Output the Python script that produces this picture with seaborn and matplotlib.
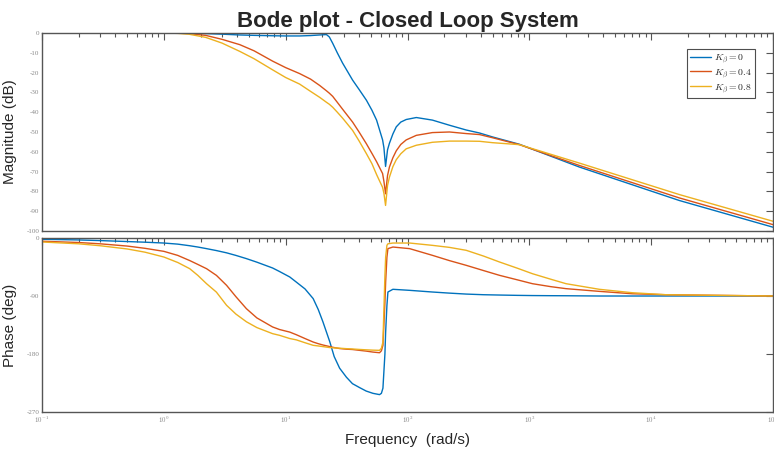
import numpy as np
import pandas as pd
import matplotlib
matplotlib.use("Agg")
import matplotlib.pyplot as plt
import matplotlib.ticker as mticker
import seaborn as sns

# ---------------------------------------------------------------
# Data
# ---------------------------------------------------------------
k_labels = [r"$K_\beta = 0$", r"$K_\beta = 0.4$", r"$K_\beta = 0.8$"]
line_colors = ["#0072BD", "#D95319", "#EDB120"]

# magnitude (dB)
w_mag = [0.1, 0.3, 1, 1.3, 1.6, 2.2, 3.0, 4.2, 5.5, 7.8, 10, 13, 16, 19, 21.6, 22.8,
         24.3, 26.5, 29.3, 35.4, 40, 46, 51, 55.7, 62.4, 64, 66, 68.5, 71, 75.8,
         80.8, 88, 97.5, 118, 160, 221, 303, 389, 498, 828, 2570, 17000, 100000]
mag_k0 = [0, 0, 0, -0.05, -0.1, -0.3, -0.6, -1.0, -1.2, -1.4, -1.5, -1.5, -1.3, -1.0, -0.8, -2.0,
          -5.2, -10, -15.2, -23.8, -28.5, -34, -39, -44, -54, -58, -67.4, -59, -55.7, -51,
          -47.4, -45, -43.7, -42.7, -44, -46.6, -49, -50.5, -52.5, -56.2, -67.7, -84.6, -98.1]
mag_k04 = [0, 0, 0, -0.1, -0.3, -1.2, -3.2, -5.9, -9, -14.2, -17.5, -20.5, -23.3, -26.5, -29.2, -30.4,
           -32, -35, -38.5, -45, -50, -56, -60.8, -65, -71, -75, -81.2, -72, -67.7, -63,
           -59.5, -56.3, -54, -51.7, -50.3, -50, -50.8, -51.3, -52.9, -56.4, -66.9, -83.3, -96.8]
mag_k08 = [0, 0, 0, -0.2, -0.6, -2.2, -5.1, -9.3, -13, -18.6, -22.5, -25.8, -29.5, -32.5, -35, -36,
           -37.5, -40, -43, -49.2, -54.5, -61, -66, -71.5, -78, -81, -87.1, -77, -72.8, -67.5,
           -64, -61, -58.5, -56.7, -55.2, -54.6, -54.6, -54.7, -55.4, -56.4, -65.7, -81.6, -95.1]

# phase (deg)
w_ph = [0.1, 0.2, 0.3, 0.5, 0.7, 1, 1.3, 1.63, 1.9, 2.24, 2.7, 3.27, 3.9, 4.76, 5.8, 7.8,
        8.9, 10.8, 12.2, 14.4, 16.8, 18.5, 20.2, 23, 25, 27.7, 31.5, 35.3, 40.3, 45.8, 52, 58.9,
        61, 62.8, 65.2, 66.1, 67.7, 69, 75.8, 104, 160, 220, 303, 420, 568, 800, 1060,
        1500, 2000, 3750, 6990, 13200, 100000]
ph_k0 = [-2, -3, -4, -5.5, -6.5, -7.8, -9.5, -12, -14, -16.5, -19.5, -23, -27, -32, -37.5, -46.5,
         -52, -60.5, -68.3, -79, -94, -111, -130, -161, -184, -202, -216, -226, -232, -237.5, -241, -243,
         -241, -233, -180, -146, -105, -83.8, -79.6, -81.2, -83.8, -85.5, -87, -88, -88.5, -89, -89.3,
         -89.5, -89.6, -90, -90, -90, -90]
ph_k04 = [-5, -7, -9, -12.5, -16, -20.7, -27, -35, -41, -47.6, -58, -73.4, -91, -109.7, -124, -138,
          -142, -146, -150, -156, -161.4, -164, -166, -168.5, -170, -171.5, -172.5, -173, -174.3, -175.5, -177, -178,
          -175, -166.5, -100, -68.3, -30, -16.5, -14, -16.5, -26.9, -35, -42.4, -50.5, -57.9, -65, -70.9,
          -75.5, -78.6, -82.8, -86.5, -88, -90]
ph_k08 = [-6.2, -9, -12, -17, -22, -29.5, -38, -47.6, -58, -70.9, -84, -104.4, -118, -130, -139, -148.4,
          -151, -156, -158, -162.5, -166.5, -167.5, -168.5, -170, -170.5, -171, -171.7, -172.2, -172.9, -173.5, -174, -174.3,
          -171, -161.4, -58, -30, -11.4, -9, -7.8, -7.8, -11.4, -14.5, -19.1, -28, -37.2, -47, -55.4,
          -64, -70.9, -79.6, -84.9, -88, -90]

mag_ticks = list(range(0, -101, -10))
ph_ticks = [0, -90, -180, -270]
freq_ticks = [1e-1, 1e0, 1e1, 1e2, 1e3, 1e4, 1e5]
freq_ticklabels = [r"$10^{-1}$", r"$10^{0}$", r"$10^{1}$", r"$10^{2}$",
                   r"$10^{3}$", r"$10^{4}$", r"$10^{5}$"]

# ---------------------------------------------------------------
# Long-form tables for seaborn
# ---------------------------------------------------------------
mag_df = pd.concat([pd.DataFrame({"w": w_mag, "val": v, "K": k})
                    for k, v in zip(k_labels, [mag_k0, mag_k04, mag_k08])])
ph_df = pd.concat([pd.DataFrame({"w": w_ph, "val": v, "K": k})
                   for k, v in zip(k_labels, [ph_k0, ph_k04, ph_k08])])

sns.set_theme(style="white")
plt.rcParams["font.family"] = ["Liberation Sans", "DejaVu Sans"]
plt.rcParams["mathtext.fontset"] = "cm"

fig = plt.figure(figsize=(7.74, 4.5), dpi=100)
ax_mag = fig.add_axes([0.0543, 0.4867, 0.9445, 0.44])
ax_ph = fig.add_axes([0.0543, 0.0844, 0.9445, 0.3867])

palette = dict(zip(k_labels, line_colors))
sns.lineplot(data=mag_df, x="w", y="val", hue="K", palette=palette,
             estimator=None, linewidth=1.0, ax=ax_mag)
sns.lineplot(data=ph_df, x="w", y="val", hue="K", palette=palette,
             estimator=None, linewidth=1.0, ax=ax_ph, legend=False)

spine_col = "#555555"
for ax in (ax_mag, ax_ph):
    ax.set_xscale("log")
    ax.set_xlim(0.1, 1e5)
    ax.set_xticks(freq_ticks)
    ax.xaxis.set_minor_locator(mticker.LogLocator(base=10, subs=np.arange(2, 10), numticks=20))
    ax.xaxis.set_minor_formatter(mticker.NullFormatter())
    ax.tick_params(which="both", direction="in", top=True, right=True,
                   color=spine_col, width=0.8, labelsize=5, labelcolor="#888888", pad=2)
    ax.tick_params(which="major", length=5)
    ax.tick_params(which="minor", length=3)
    for s in ax.spines.values():
        s.set_color(spine_col)
        s.set_linewidth(1.0)
    ax.grid(False)

ax_mag.set_ylim(-100, 0)
ax_mag.set_yticks(mag_ticks)
ax_mag.set_yticklabels([str(t) for t in mag_ticks], family="Liberation Serif")
ax_mag.set_xticklabels([])
ax_mag.set_xlabel("")
ax_mag.set_ylabel("Magnitude (dB)", fontsize=11)
ax_mag.yaxis.set_label_coords(-0.034, 0.5)

ax_ph.set_ylim(-270, 0)
ax_ph.set_yticks(ph_ticks)
ax_ph.set_yticklabels([str(t) for t in ph_ticks], family="Liberation Serif")
ax_ph.set_xticklabels(freq_ticklabels)
ax_ph.set_xlabel("Frequency  (rad/s)", fontsize=11, labelpad=6)
ax_ph.set_ylabel("Phase (deg)", fontsize=11)
ax_ph.yaxis.set_label_coords(-0.034, 0.5)

ax_mag.set_title("Bode plot - Closed Loop System", fontsize=16, fontweight="bold", pad=4)

leg = ax_mag.legend(loc="upper right", bbox_to_anchor=(0.9754, 0.919), borderaxespad=0,
                    fontsize=7, frameon=True, fancybox=False, handlelength=2.2,
                    handletextpad=0.3, borderpad=0.3, labelspacing=0.15, title=None)
leg.get_frame().set_edgecolor("#222222")
leg.get_frame().set_linewidth(0.8)

fig.savefig("out.png", dpi=100)
